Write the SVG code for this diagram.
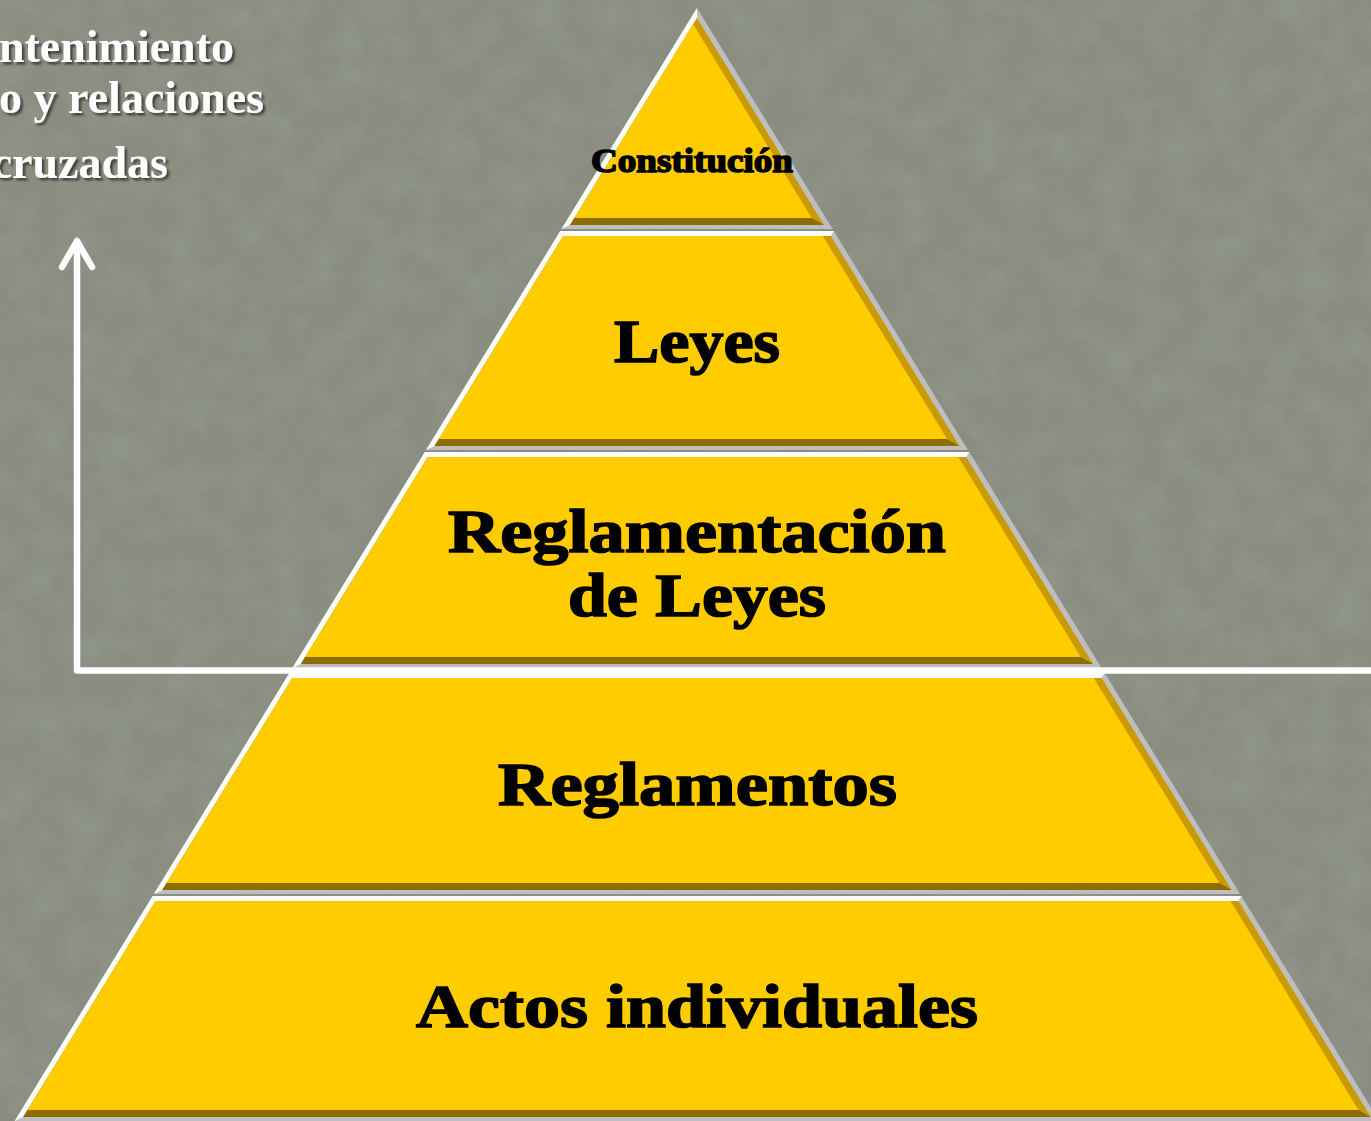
<svg xmlns="http://www.w3.org/2000/svg" width="1371" height="1121" viewBox="0 0 1371 1121">
<defs>
<filter id="tex" x="0" y="0" width="100%" height="100%">
<feTurbulence type="fractalNoise" baseFrequency="0.03" numOctaves="4" seed="7"/>
<feColorMatrix values="0 0 0 0 0.36  0 0 0 0 0.38  0 0 0 0 0.33  1.6 0 0 0 -0.62"/>
</filter>
<filter id="shadow" x="-10%" y="-20%" width="120%" height="150%">
<feDropShadow dx="2.5" dy="2.5" stdDeviation="1.2" flood-color="#000" flood-opacity="0.55"/>
</filter>
<style>
.gray{fill:#bebebe}
.white{fill:#ffffff}
.rstrip{fill:#c99b00}
.bstrip{fill:#8c6e05}
.face{fill:#ffcc00}
.lbl{font-family:"Liberation Serif","DejaVu Serif",serif;font-weight:bold;fill:#000;stroke:#000;stroke-width:1.6;text-anchor:middle}
.side{font-family:"Liberation Serif","Times New Roman",serif;font-weight:bold;font-size:46px;fill:#ffffff;text-anchor:end}
.axis{stroke:#ffffff;fill:none;stroke-linejoin:round}
</style>
</defs>
<rect width="1371" height="1121" fill="#898e81"/>
<rect width="1371" height="1121" filter="url(#tex)" opacity="0.4"/>

<g id="side-text" filter="url(#shadow)">
<text class="side" x="234" y="62">ntenimiento</text>
<text class="side" x="264" y="113">o y relaciones</text>
<text class="side" x="168" y="178">cruzadas</text>
</g>

<g id="level-constitucion">
<polygon class="gray" points="697,8 832.5,229 561.5,229"/>
<polygon class="white" points="697,8 697,18 570,225 561.5,229"/>
<polygon class="rstrip" points="697,18 824,225 570,225"/>
<polygon class="bstrip" points="574.3,218 811.7,218 824,225 570,225"/>
<polygon class="face" points="693,24 811.7,218 574.3,218"/>
<text class="lbl" x="692" y="172" font-size="34" textLength="202" lengthAdjust="spacingAndGlyphs" stroke-width="0.8">Constitución</text>
</g>

<g id="level-leyes">
<polygon class="gray" points="560.3,231 833.7,231 967.9,450 426.1,450"/>
<polygon class="white" points="560.3,231 833.7,231 830.8,236 563.2,236 434.5,446 426.1,450"/>
<polygon class="rstrip" points="563.2,236 830.8,236 959.5,446 434.5,446"/>
<polygon class="bstrip" points="438.8,439 947.2,439 959.5,446 434.5,446"/>
<polygon class="face" points="563.2,236 822.8,236 947.2,439 438.8,439"/>
<text class="lbl" x="697" y="362" font-size="62" textLength="166" lengthAdjust="spacingAndGlyphs">Leyes</text>
</g>

<g id="level-reglamentacion">
<polygon class="gray" points="424.8,452 969.2,452 1101.6,668 292.4,668"/>
<polygon class="white" points="424.8,452 969.2,452 966.2,457 427.8,457 300.9,664 292.4,668"/>
<polygon class="rstrip" points="427.8,457 966.2,457 1093.1,664 300.9,664"/>
<polygon class="bstrip" points="305.2,657 1080.8,657 1093.1,664 300.9,664"/>
<polygon class="face" points="427.8,457 958.2,457 1080.8,657 305.2,657"/>
<text class="lbl" x="697" y="552" font-size="62" textLength="498" lengthAdjust="spacingAndGlyphs">Reglamentación</text>
<text class="lbl" x="697" y="616" font-size="62" textLength="258" lengthAdjust="spacingAndGlyphs">de Leyes</text>
</g>

<g id="level-reglamentos">
<polygon class="gray" points="289.4,673 1104.6,673 1240.1,894 153.9,894"/>
<polygon class="white" points="289.4,673 1104.6,673 1101.7,678 292.3,678 162.3,890 153.9,894"/>
<polygon class="rstrip" points="292.3,678 1101.7,678 1231.7,890 162.3,890"/>
<polygon class="bstrip" points="166.6,883 1219.4,883 1231.7,890 162.3,890"/>
<polygon class="face" points="292.3,678 1093.7,678 1219.4,883 166.6,883"/>
<text class="lbl" x="697.5" y="805" font-size="62" textLength="399" lengthAdjust="spacingAndGlyphs">Reglamentos</text>
</g>

<g id="level-actos">
<polygon class="gray" points="152.7,896 1241.3,896 1379.3,1121 14.7,1121"/>
<polygon class="white" points="152.7,896 1241.3,896 1238.4,901 155.6,901 23.2,1117 14.7,1121"/>
<polygon class="rstrip" points="155.6,901 1238.4,901 1370.8,1117 23.2,1117"/>
<polygon class="bstrip" points="27.5,1110 1358.5,1110 1370.8,1117 23.2,1117"/>
<polygon class="face" points="155.6,901 1230.4,901 1358.5,1110 27.5,1110"/>
<text class="lbl" x="697" y="1027" font-size="62" textLength="562" lengthAdjust="spacingAndGlyphs">Actos individuales</text>
</g>

<g id="connectors">
<polyline class="axis" points="1375,670.5 77,670.5 77,242" stroke-width="6.5" stroke-linejoin="miter"/>
<polyline class="axis" points="62,267 77,241 92,267" stroke-width="6.5" stroke-linecap="round"/>
</g>
</svg>
